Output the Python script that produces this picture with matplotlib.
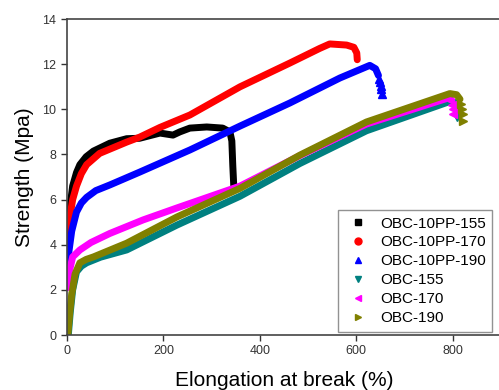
import matplotlib
matplotlib.use("Agg")
import matplotlib.pyplot as plt
from matplotlib.lines import Line2D

plt.rcParams['font.family'] = ['Liberation Sans', 'DejaVu Sans']

# --- Data ---
labels = ["OBC-10PP-155", "OBC-10PP-170", "OBC-10PP-190",
          "OBC-155", "OBC-170", "OBC-190"]
colors = ["black", "#ff0000", "#0000ff", "#008080", "#ff00ff", "#808000"]
markers = ["s", "o", "^", "v", "<", ">"]

pp155_x = [1, 2, 6, 12, 20, 27, 40, 55, 89, 124, 151, 193, 220, 234, 255, 290, 323, 338, 342, 344, 346]
pp155_y = [3.5, 4.5, 5.6, 6.6, 7.2, 7.55, 7.9, 8.15, 8.5, 8.7, 8.72, 8.95, 8.86, 9.0, 9.17, 9.22, 9.17, 9.0, 8.6, 7.5, 6.6]

pp170_x = [1, 6, 12, 20, 30, 41, 68, 124, 151, 193, 255, 359, 462, 524, 545, 580, 595, 601, 602]
pp170_y = [4.0, 5.2, 6.0, 6.6, 7.15, 7.55, 8.05, 8.55, 8.77, 9.2, 9.75, 11.0, 12.05, 12.7, 12.9, 12.85, 12.75, 12.5, 12.2]

pp190_x = [1, 3, 10, 20, 30, 41, 60, 89, 151, 255, 359, 462, 566, 628, 640, 646]
pp190_y = [2.5, 3.5, 4.6, 5.45, 5.85, 6.1, 6.4, 6.65, 7.22, 8.2, 9.26, 10.28, 11.39, 11.95, 11.8, 11.5]
pp190_tail_x = [648, 650, 651, 652, 653]
pp190_tail_y = [11.35, 11.2, 11.05, 10.9, 10.7]

obc155_x = [3, 7, 12, 20, 30, 41, 70, 124, 228, 359, 483, 621, 794, 805]
obc155_y = [0, 1, 2, 2.8, 3.05, 3.2, 3.45, 3.77, 4.87, 6.15, 7.6, 9.05, 10.35, 10.3]
obc155_tail_x = [806, 807, 808]
obc155_tail_y = [10.1, 9.9, 9.65]

obc170_x = [1, 5, 12, 27, 50, 89, 158, 228, 359, 483, 621, 790, 798]
obc170_y = [2.1, 2.8, 3.46, 3.77, 4.1, 4.5, 5.1, 5.63, 6.6, 7.95, 9.35, 10.5, 10.4]
obc170_tail_x = [799, 800, 801]
obc170_tail_y = [10.2, 10.0, 9.8]

obc190_x = [2, 6, 10, 17, 27, 40, 55, 124, 228, 359, 483, 621, 794, 808, 815]
obc190_y = [0, 1, 1.8, 2.7, 3.2, 3.35, 3.46, 4.07, 5.23, 6.5, 7.97, 9.44, 10.7, 10.65, 10.45]
obc190_tail_x = [818, 820, 821, 822]
obc190_tail_y = [10.25, 10.0, 9.8, 9.5]

curves = [(pp155_x, pp155_y, [], []),
          (pp170_x, pp170_y, [], []),
          (pp190_x, pp190_y, pp190_tail_x, pp190_tail_y),
          (obc155_x, obc155_y, obc155_tail_x, obc155_tail_y),
          (obc170_x, obc170_y, obc170_tail_x, obc170_tail_y),
          (obc190_x, obc190_y, obc190_tail_x, obc190_tail_y)]

# --- Plot ---
fig = plt.figure(figsize=(4.99, 3.9), dpi=100)
ax = fig.add_axes([0.134, 0.141, 0.87, 0.810])

for (x, y, tx, ty), c, m in zip(curves, colors, markers):
    ax.plot(x, y, color=c, lw=5, solid_capstyle="round", solid_joinstyle="round")
    if tx:
        ax.plot(tx, ty, linestyle="none", marker=m, color=c, markersize=6)

ax.set_xlim(0, 900)
ax.set_ylim(0, 14)
ax.set_xticks([0, 200, 400, 600, 800])
ax.set_yticks([0, 2, 4, 6, 8, 10, 12, 14])
ax.tick_params(direction="out", length=4, width=1, labelsize=9, colors="#333333")
for s in ax.spines.values():
    s.set_color("#444444")
    s.set_linewidth(1.2)

ax.set_xlabel("Elongation at break (%)", fontsize=15, labelpad=10)
ax.set_ylabel("Strength (Mpa)", fontsize=15, labelpad=6)

handles = [Line2D([], [], linestyle="none", marker=m, color=c, markersize=5)
           for c, m in zip(colors, markers)]
ax.legend(handles, labels, loc="lower left", bbox_to_anchor=(0.624, 0.01),
          fontsize=11, frameon=True, fancybox=False, edgecolor="#777777",
          handlelength=1.7, handletextpad=0.6, labelspacing=0.32,
          borderpad=0.45, borderaxespad=0)

fig.savefig("out.png", dpi=100)
